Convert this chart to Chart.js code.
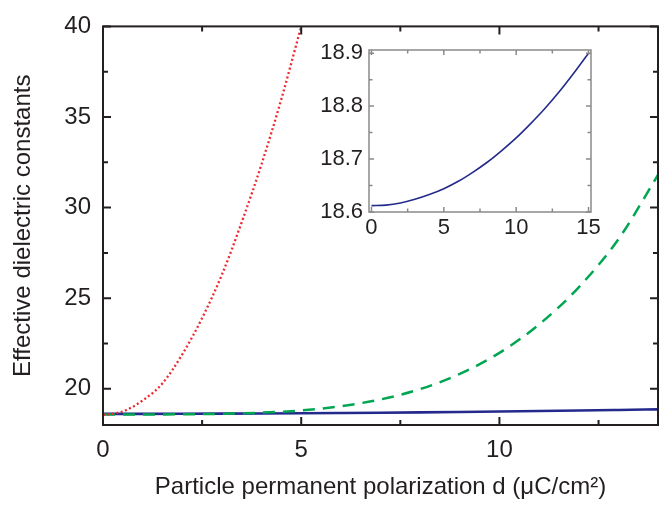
<!DOCTYPE html>
<html>
<head>
<meta charset="utf-8">
<script src="https://cdn.jsdelivr.net/npm/chart.js@4.4.1/dist/chart.umd.min.js"></script>
<style>
  html, body { margin: 0; padding: 0; background: #fff; }
  #wrap { position: relative; width: 666px; height: 505px; }
  #main { position: absolute; left: 0; top: 0; }
  #inset { position: absolute; left: 300px; top: 30px; }
</style>
</head>
<body>
<div id="wrap">
  <canvas id="main" width="666" height="505"></canvas>
  <canvas id="inset" width="310" height="215"></canvas>
</div>
<script>
'use strict'

// data
const dRed = [0, 0.5, 1, 1.5, 2, 2.5, 3, 3.5, 4, 4.5, 5];
const epsRed = [18.55, 18.75, 19.35, 20.3, 21.9, 23.9, 26.3, 29.2, 32.4, 36.0, 40.0];

const dMain = [0, 1, 2, 3, 4, 5, 6, 7, 8, 9, 10, 11, 12, 13, 14];
const epsGreen = [18.58, 18.58, 18.59, 18.62, 18.68, 18.8, 19.04, 19.41, 19.98, 20.82, 21.98, 23.55, 25.6, 28.25, 31.8];
const epsBlue = [18.615, 18.616, 18.62, 18.627, 18.636, 18.647, 18.661, 18.677, 18.696, 18.718, 18.742, 18.769, 18.798, 18.83, 18.864];

const dInset = [0, 1, 2, 3, 4, 5, 6, 7, 8, 9, 10, 11, 12, 13, 14, 15];
const epsInset = [18.612, 18.613, 18.617, 18.624, 18.633, 18.644, 18.658, 18.675, 18.694, 18.716, 18.740, 18.767, 18.796, 18.828, 18.863, 18.900];

// ticks
const mainXTicks = [0, 5, 10];
const mainXMinor = [2.5, 7.5, 12.5];
const mainYTicks = [20, 25, 30, 35, 40];
const mainYMinor = [22.5, 27.5, 32.5, 37.5];
const insetXTicks = [0, 5, 10, 15];
const insetXMinor = [2.5, 7.5, 12.5];
const insetYTicks = [18.6, 18.7, 18.8, 18.9];
const insetYMinor = [18.65, 18.75, 18.85];

const FONT = "'Liberation Sans', Arial, sans-serif";
const TXT = '#231f20';

const pts = (xs, ys) => xs.map((x, i) => ({ x: x, y: ys[i] }));

// box + inward ticks on all four sides
function frameTicks(cfg) {
  return {
    id: 'frameTicks',
    afterDatasetsDraw(chart) {
      const ctx = chart.ctx;
      const a = chart.chartArea;
      const x = chart.scales.x, y = chart.scales.y;
      ctx.save();
      ctx.strokeStyle = cfg.color;
      ctx.lineWidth = cfg.width;
      ctx.beginPath();
      const vx = (vals, len) => vals.forEach(v => {
        const px = x.getPixelForValue(v);
        ctx.moveTo(px, a.bottom); ctx.lineTo(px, a.bottom - len);
        ctx.moveTo(px, a.top); ctx.lineTo(px, a.top + len);
      });
      const vy = (vals, len) => vals.forEach(v => {
        const py = y.getPixelForValue(v);
        ctx.moveTo(a.left, py); ctx.lineTo(a.left + len, py);
        ctx.moveTo(a.right, py); ctx.lineTo(a.right - len, py);
      });
      vx(cfg.xMajor, cfg.major); vx(cfg.xMinor, cfg.minor);
      vy(cfg.yMajor, cfg.major); vy(cfg.yMinor, cfg.minor);
      ctx.stroke();
      ctx.strokeRect(a.left, a.top, a.right - a.left, a.bottom - a.top);
      ctx.restore();
    }
  };
}

const mainChart = new Chart(document.getElementById('main').getContext('2d'), {
  type: 'line',
  data: {
    datasets: [
      {
        data: pts(dRed, epsRed),
        borderColor: '#f0262b', borderWidth: 2.3, borderDash: [2, 2.5],
        pointRadius: 0, cubicInterpolationMode: 'monotone'
      },
      {
        data: pts(dMain, epsGreen),
        borderColor: '#00a651', borderWidth: 2.5, borderDash: [12, 8],
        pointRadius: 0, cubicInterpolationMode: 'monotone'
      },
      {
        data: pts(dMain, epsBlue),
        borderColor: '#232a8c', borderWidth: 2.6,
        pointRadius: 0, cubicInterpolationMode: 'monotone'
      }
    ]
  },
  options: {
    responsive: false,
    animation: false,
    layout: { padding: { top: 17, right: 8, left: 0, bottom: 0 } },
    plugins: { legend: { display: false }, tooltip: { enabled: false } },
    scales: {
      x: {
        type: 'linear', min: 0, max: 14,
        grid: { display: false, drawTicks: false },
        border: { display: false },
        afterBuildTicks: s => { s.ticks = mainXTicks.map(v => ({ value: v })); },
        afterFit: s => { s.height = 80; },
        ticks: { padding: 11, color: TXT, maxRotation: 0, font: { size: 24, family: FONT } },
        title: {
          display: true, text: 'Particle permanent polarization d (μC/cm²)',
          color: TXT, font: { size: 24, family: FONT }, padding: { top: 0, bottom: 3 }
        }
      },
      y: {
        type: 'linear', min: 18, max: 40,
        grid: { display: false, drawTicks: false },
        border: { display: false },
        afterBuildTicks: s => { s.ticks = mainYTicks.map(v => ({ value: v })); },
        afterFit: s => { s.width = 103; },
        ticks: { padding: 12, color: TXT, font: { size: 24, family: FONT } },
        title: {
          display: true, text: 'Effective dielectric constants',
          color: TXT, font: { size: 24, family: FONT }, padding: { top: 9, bottom: 0 }
        }
      }
    }
  },
  plugins: [frameTicks({
    color: TXT, width: 2, major: 8, minor: 5,
    xMajor: mainXTicks, xMinor: mainXMinor, yMajor: mainYTicks, yMinor: mainYMinor
  })]
});

const insetChart = new Chart(document.getElementById('inset').getContext('2d'), {
  type: 'line',
  data: {
    datasets: [{
      data: pts(dInset, epsInset),
      borderColor: '#232a8c', borderWidth: 1.6,
      pointRadius: 0, cubicInterpolationMode: 'monotone'
    }]
  },
  options: {
    responsive: false,
    animation: false,
    layout: { padding: { top: 20, right: 19, left: 0, bottom: 0 } },
    plugins: { legend: { display: false }, tooltip: { enabled: false } },
    scales: {
      x: {
        type: 'linear', min: -0.17, max: 15.17,
        grid: { display: false, drawTicks: false },
        border: { display: false },
        afterBuildTicks: s => { s.ticks = insetXTicks.map(v => ({ value: v })); },
        afterFit: s => { s.height = 33; },
        ticks: { padding: 3, color: TXT, maxRotation: 0, font: { size: 22, family: FONT } }
      },
      y: {
        type: 'linear', min: 18.6, max: 18.906,
        grid: { display: false, drawTicks: false },
        border: { display: false },
        afterBuildTicks: s => { s.ticks = insetYTicks.map(v => ({ value: v })); },
        afterFit: s => { s.width = 69; },
        ticks: { padding: 6, color: TXT, font: { size: 22, family: FONT }, callback: v => v.toFixed(1) }
      }
    }
  },
  plugins: [frameTicks({
    color: '#8a8a8a', width: 1.5, major: 5, minor: 3.5,
    xMajor: insetXTicks, xMinor: insetXMinor, yMajor: insetYTicks, yMinor: insetYMinor
  })]
});
</script>
</body>
</html>
